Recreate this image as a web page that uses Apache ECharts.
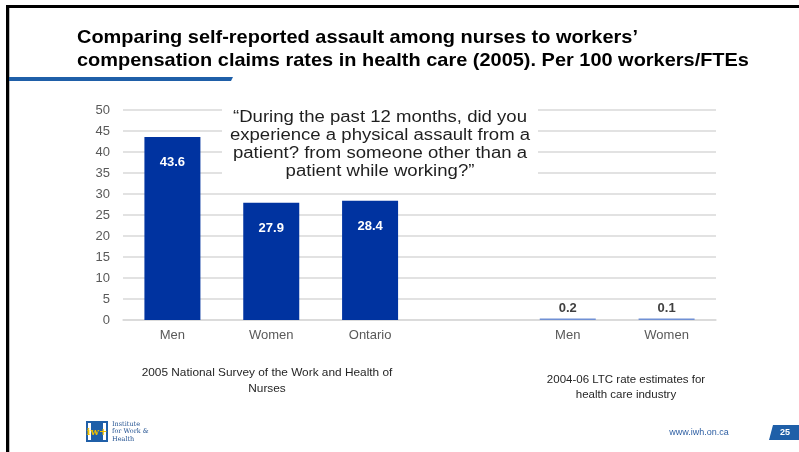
<!DOCTYPE html>
<html>
<head>
<meta charset="utf-8">
<script src="https://cdn.jsdelivr.net/npm/echarts@6/dist/echarts.min.js"></script>
<style>
  html, body { margin: 0; padding: 0; background: #ffffff; }
  #chart { width: 799px; height: 452px; }
</style>
</head>
<body>
<div id="chart"></div>
<script>
// Category slots: nurse survey on the left, LTC claim rates on the right, one empty slot between
const categories = ['Men', 'Women', 'Ontario', '', 'Men', 'Women'];
// Rates per 100 workers / FTEs
const rates = [43.6, 27.9, 28.4, null, 0.2, 0.1];

const titleLines = [
  'Comparing self-reported assault among nurses to workers\u2019',
  'compensation claims rates in health care (2005). Per 100 workers/FTEs'
];
const questionLines = [
  '\u201CDuring the past 12 months, did you',
  'experience a physical assault from a',
  'patient? from someone other than a',
  'patient while working?\u201D'
];
const surveySource = ['2005 National Survey of the Work and Health of', 'Nurses'];
const ltcSource = ['2004-06 LTC rate estimates for', 'health care industry'];

const FONT = '"Liberation Sans", Arial, sans-serif';
const BAR = '#0033a0';

const chart = echarts.init(document.getElementById('chart'), null, { renderer: 'canvas' });

const barData = rates.map(function (v) {
  if (v === null) return null;
  const big = v > 5;
  return {
    value: v,
    itemStyle: big ? { color: BAR } : { color: '#7090d4' },
    label: big
      ? { show: true, position: 'insideTop', distance: 19, color: '#ffffff', fontWeight: 'bold', fontSize: 13, fontFamily: FONT }
      : { show: true, position: 'top', distance: 4, color: '#404040', fontWeight: 'bold', fontSize: 13, fontFamily: FONT }
  };
});

// a block of text lines, optionally widened horizontally
function textLines(lines, x, y0, step, style, sx) {
  return lines.map(function (t, i) {
    return {
      type: 'text', x: x, y: y0 + i * step, scaleX: sx || 1,
      style: Object.assign({ text: t, fontFamily: FONT, textVerticalAlign: 'middle' }, style)
    };
  });
}

const graphics = [
  // slide frame
  { type: 'rect', shape: { x: 6, y: 5, width: 799, height: 3 }, style: { fill: '#000000' } },
  { type: 'rect', shape: { x: 6, y: 5, width: 3, height: 460 }, style: { fill: '#000000' } },
  { type: 'rect', shape: { x: 9, y: 8, width: 1, height: 460 }, style: { fill: '#bdbdbd' } },
  // title underline with slanted end
  { type: 'polygon', shape: { points: [[9, 77], [233, 77], [231, 81], [9, 81]] }, style: { fill: '#1f5fa8' } },
  // white box behind the survey question (covers the gridlines)
  { type: 'rect', shape: { x: 222, y: 103, width: 316, height: 83 }, style: { fill: '#ffffff' } },
  // logo block
  { type: 'rect', shape: { x: 86, y: 421, width: 22, height: 21 }, style: { fill: '#1f5fa8' } },
  { type: 'rect', shape: { x: 88, y: 423, width: 3, height: 17 }, style: { fill: '#ffffff' } },
  { type: 'rect', shape: { x: 103, y: 423, width: 3, height: 17 }, style: { fill: '#ffffff' } },
  { type: 'text', x: 97, y: 432, style: { text: 'iw+', fontFamily: '"DejaVu Serif", serif', fontSize: 10, fontWeight: 'bold', fill: '#f2c200', textAlign: 'center', textVerticalAlign: 'middle' } },
  // page number tab
  { type: 'polygon', shape: { points: [[773, 425], [799, 425], [799, 440], [769, 440]] }, style: { fill: '#1f5fa8' } },
  { type: 'text', x: 785, y: 433, style: { text: '25', fontFamily: FONT, fontSize: 9, fontWeight: 'bold', fill: '#ffffff', textAlign: 'center', textVerticalAlign: 'middle' } },
  { type: 'text', x: 699, y: 433, style: { text: 'www.iwh.on.ca', fontFamily: FONT, fontSize: 9, fill: '#2e5fa3', textAlign: 'center', textVerticalAlign: 'middle' } }
]
  .concat(textLines(titleLines, 77, 38, 23, { fontSize: 19, fontWeight: 'bold', fill: '#000000', textAlign: 'left' }, 1.05))
  .concat(textLines(questionLines, 380, 118, 17.7, { fontSize: 16, fill: '#1f1f1f', textAlign: 'center' }, 1.16))
  .concat(textLines(surveySource, 267, 373, 16, { fontSize: 11.5, fill: '#262626', textAlign: 'center' }, 1.03))
  .concat(textLines(ltcSource, 626, 380, 15, { fontSize: 11.5, fill: '#262626', textAlign: 'center' }))
  .concat(textLines(['Institute', 'for Work &', 'Health'], 112, 424, 7.5, { fontSize: 6.5, fill: '#1f4f8f', textAlign: 'left', fontFamily: '"DejaVu Serif", serif' }))
  // keep the overlay above the axes and gridlines
  .map(function (el, i) { el.z = 100 + i; return el; });

chart.setOption({
  animation: false,
  backgroundColor: '#ffffff',
  grid: { left: 123, right: 83, top: 110, bottom: 132, containLabel: false },
  xAxis: {
    type: 'category',
    data: categories,
    axisLine: { show: true, lineStyle: { color: '#d9d9d9', width: 1.5 } },
    axisTick: { show: false },
    axisLabel: { color: '#595959', fontSize: 13, fontFamily: FONT, margin: 9, interval: 0 }
  },
  yAxis: {
    type: 'value',
    min: 0, max: 50, interval: 5,
    axisLine: { show: false },
    axisTick: { show: false },
    axisLabel: { color: '#595959', fontSize: 13, fontFamily: FONT, margin: 13 },
    splitLine: { lineStyle: { color: '#d9d9d9', width: 1.5 } }
  },
  series: [{
    type: 'bar',
    data: barData,
    barWidth: 56,
    barMinHeight: 1.5,
    z: 3,
    itemStyle: { color: BAR }
  }],
  graphic: { z: 50, elements: graphics }
});
</script>
</body>
</html>
